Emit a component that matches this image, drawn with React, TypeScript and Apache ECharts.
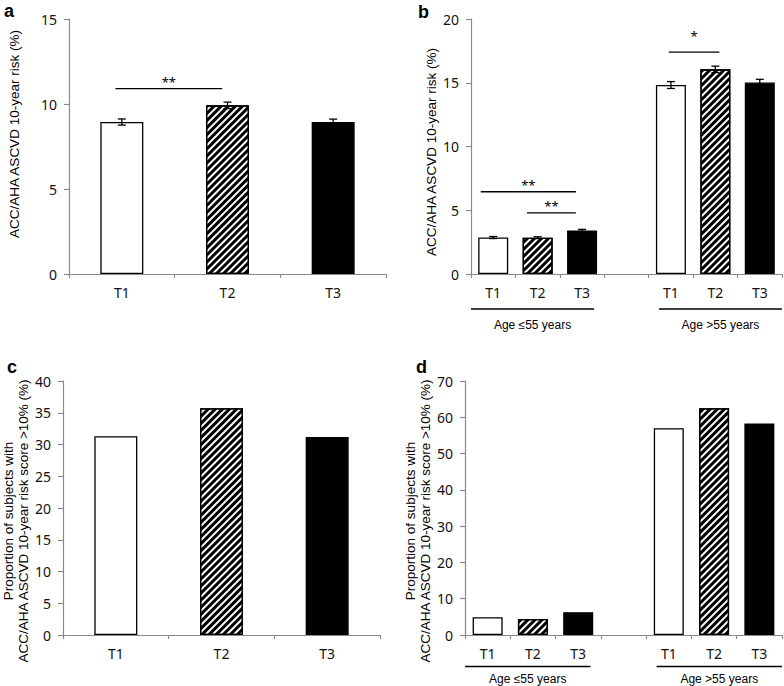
import React, { useEffect, useRef } from 'react';
import * as echarts from 'echarts';

// ---------- data ----------
const catsSingle = ['T1', 'T2', 'T3'];
const catsGrouped = ['T1', 'T2', 'T3', '', 'T1', 'T2', 'T3'];
const ageGroups = ['Age ≤55 years', 'Age >55 years'];

const riskAll = [8.94, 9.92, 8.94];
const riskAllErr = [0.18, 0.19, 0.17];
const riskByAge: (number | null)[] = [2.86, 2.85, 3.42, null, 14.82, 16.05, 15.02];
const riskByAgeErr: (number | null)[] = [0.08, 0.07, 0.08, null, 0.27, 0.25, 0.25];

const propAll = [31.3, 35.7, 31.2];
const propByAge: (number | null)[] = [4.9, 4.4, 6.3, null, 57.0, 62.5, 58.3];

const yMax = [15, 20, 40, 70];
const yStep = [5, 5, 5, 10];

// significance brackets: positions on category scale (fractional index), values on y scale
const sigA = [{ from: -0.06, to: 0.95, y: 10.9, textY: 11.3, text: '**' }];
const sigB = [
  { from: -0.28, to: 1.86, y: 6.45, textY: 6.98, text: '**' },
  { from: 0.76, to: 1.86, y: 4.8, textY: 5.33, text: '**' },
  { from: 3.95, to: 5.09, y: 17.4, textY: 18.67, text: '*' },
];

const yNameRisk = 'ACC/AHA ASCVD 10-year risk (%)';
const yNameProp = 'Proportion of subjects with\nACC/AHA ASCVD 10-year risk score >10% (%)';

// ---------- styles ----------
const TICK_FONT = '"Noto Sans", "Open Sans", sans-serif';
const LABEL_FONT = '"Liberation Sans", Arial, sans-serif';
const AXIS_GRAY = '#8a8a8a';

const hatch = {
  symbol: 'rect',
  symbolSize: 1,
  dashArrayX: [1, 0],
  dashArrayY: [2.2, 2],
  rotation: -Math.PI / 4,
  color: '#000',
  backgroundColor: '#fff',
};

function styleFor(label: string) {
  if (label === 'T1') return { color: '#fff', borderColor: '#000', borderWidth: 1.3 };
  if (label === 'T2') return { color: '#fff', borderColor: '#000', borderWidth: 1.3, decal: hatch };
  return { color: '#000', borderColor: '#000', borderWidth: 1.3 };
}

function barData(cats: string[], values: (number | null)[]) {
  return values.map((v, i) =>
    v == null ? '-' : { value: v, itemStyle: styleFor(cats[i]) }
  );
}

function errorSeries(idx: number, values: (number | null)[], errs: (number | null)[]) {
  const data: number[][] = [];
  values.forEach((v, i) => {
    if (v != null && errs[i] != null) data.push([i, v, errs[i] as number]);
  });
  return {
    type: 'custom',
    xAxisIndex: idx,
    yAxisIndex: idx,
    encode: { x: 0, y: 1 },
    clip: false,
    z: 5,
    silent: true,
    data,
    renderItem: (_p: any, api: any) => {
      const x = api.value(0);
      const v = api.value(1);
      const e = api.value(2);
      const hi = api.coord([x, v + e]);
      const lo = api.coord([x, v - e]);
      const w = 4;
      const st = { stroke: '#000', lineWidth: 1.3 };
      return {
        type: 'group',
        children: [
          { type: 'line', shape: { x1: hi[0], y1: hi[1], x2: lo[0], y2: lo[1] }, style: st },
          { type: 'line', shape: { x1: hi[0] - w, y1: hi[1], x2: hi[0] + w, y2: hi[1] }, style: st },
          { type: 'line', shape: { x1: lo[0] - w, y1: lo[1], x2: lo[0] + w, y2: lo[1] }, style: st },
        ],
      };
    },
  };
}

function sigSeries(idx: number, sig: { from: number; to: number; y: number; textY: number; text: string }[]) {
  return {
    type: 'custom',
    xAxisIndex: idx,
    yAxisIndex: idx,
    encode: { x: 0, y: 1 },
    clip: false,
    z: 6,
    silent: true,
    data: sig.map((s) => [0, s.y, s.from, s.to, s.textY]),
    renderItem: (params: any, api: any) => {
      const y = api.value(1);
      const f = api.value(2);
      const t = api.value(3);
      const ty = api.value(4);
      const p0 = api.coord([0, y]);
      const p1 = api.coord([1, y]);
      const band = p1[0] - p0[0];
      const x1 = p0[0] + band * f;
      const x2 = p0[0] + band * t;
      const tyPx = api.coord([0, ty])[1];
      return {
        type: 'group',
        children: [
          { type: 'line', shape: { x1, y1: p0[1], x2, y2: p0[1] }, style: { stroke: '#000', lineWidth: 1.3 } },
          {
            type: 'text',
            x: (x1 + x2) / 2,
            y: tyPx,
            style: {
              text: sig[params.dataIndex].text,
              textAlign: 'center',
              textVerticalAlign: 'middle',
              font: `13px ${TICK_FONT}`,
              fill: '#000',
            },
          },
        ],
      };
    },
  };
}

const grids = [
  { left: 69, top: 19, width: 317, height: 255 },
  { left: 471, top: 19, width: 311, height: 255 },
  { left: 63, top: 381, width: 317, height: 254 },
  { left: 465, top: 381, width: 317, height: 254 },
];

function xAxis(idx: number, cats: string[]) {
  return {
    type: 'category',
    gridIndex: idx,
    data: cats,
    axisLine: { show: true, lineStyle: { color: AXIS_GRAY, width: 1.2 } },
    axisTick: { show: true, length: 4, lineStyle: { color: AXIS_GRAY, width: 1.2 } },
    axisLabel: { color: '#111', fontFamily: TICK_FONT, fontSize: 14, margin: 11 },
  };
}

function yAxis(idx: number, name: string, nameGap: number, padding: number[]) {
  return {
    type: 'value',
    gridIndex: idx,
    min: 0,
    max: yMax[idx],
    interval: yStep[idx],
    splitLine: { show: false },
    axisLine: { show: true, lineStyle: { color: AXIS_GRAY, width: 1.2 } },
    axisTick: { show: true, length: 5, lineStyle: { color: AXIS_GRAY, width: 1.2 } },
    axisLabel: { color: '#111', fontFamily: TICK_FONT, fontSize: 14, margin: 12 },
    name,
    nameLocation: 'middle',
    nameRotate: 90,
    nameGap,
    nameTextStyle: {
      fontFamily: LABEL_FONT,
      fontSize: 13.5,
      color: '#000',
      lineHeight: 15,
      align: 'center',
      padding,
    },
  };
}

export default function App() {
  const ref = useRef<HTMLDivElement>(null);
  useEffect(() => {
    if (!ref.current) return;
    const chart = echarts.init(ref.current, undefined, { renderer: 'svg' });
    chart.setOption({
      animation: false,
      backgroundColor: '#fff',
      grid: grids,
      xAxis: [
        xAxis(0, catsSingle),
        xAxis(1, catsGrouped),
        xAxis(2, catsSingle),
        xAxis(3, catsGrouped),
      ],
      yAxis: [
        yAxis(0, yNameRisk, 47, [0, 0, 0, 25]),
        yAxis(1, yNameRisk, 32, [0, 11, 0, 0]),
        yAxis(2, yNameProp, 32, [0, 26, 0, 0]),
        yAxis(3, yNameProp, 32, [0, 26, 0, 0]),
      ],
      series: [
        { type: 'bar', xAxisIndex: 0, yAxisIndex: 0, barWidth: 43, data: barData(catsSingle, riskAll) },
        { type: 'bar', xAxisIndex: 1, yAxisIndex: 1, barWidth: 30, data: barData(catsGrouped, riskByAge) },
        { type: 'bar', xAxisIndex: 2, yAxisIndex: 2, barWidth: 43, data: barData(catsSingle, propAll) },
        { type: 'bar', xAxisIndex: 3, yAxisIndex: 3, barWidth: 30, data: barData(catsGrouped, propByAge) },
        errorSeries(0, riskAll, riskAllErr),
        errorSeries(1, riskByAge, riskByAgeErr),
        sigSeries(0, sigA),
        sigSeries(1, sigB),
      ],
    });

    // group brackets under the grouped panels, placed from the axes' own scales
    const graphics: any[] = [];
    const letters = [
      { t: 'a', x: 4, y: 11 },
      { t: 'b', x: 418, y: 11.5 },
      { t: 'c', x: 7, y: 366.5 },
      { t: 'd', x: 416, y: 367 },
    ];
    letters.forEach((l) =>
      graphics.push({
        type: 'text',
        x: l.x,
        y: l.y,
        style: { text: l.t, font: `bold 18px ${LABEL_FONT}`, fill: '#000', textVerticalAlign: 'middle' },
      })
    );
    [
      { axis: 1, lineOff: 35, textOff: 51 },
      { axis: 3, lineOff: 31.5, textOff: 44 },
    ].forEach(({ axis, lineOff, textOff }) => {
      const cx = (i: number) => chart.convertToPixel({ xAxisIndex: axis }, i) as number;
      const base = chart.convertToPixel({ yAxisIndex: axis }, 0) as number;
      const band = cx(1) - cx(0);
      const spans = [
        [cx(0) - band / 2, cx(2) + band / 2 - band * 0.23],
        [cx(4) - band / 2 + band * 0.23, cx(6) + band / 2],
      ];
      spans.forEach(([a, b], gi) => {
        graphics.push({
          type: 'line',
          shape: { x1: a, y1: base + lineOff, x2: b, y2: base + lineOff },
          style: { stroke: '#000', lineWidth: 1.3 },
        });
        graphics.push({
          type: 'text',
          x: (a + b) / 2,
          y: base + textOff,
          style: {
            text: ageGroups[gi],
            font: `12px ${LABEL_FONT}`,
            fill: '#000',
            textAlign: 'center',
            textVerticalAlign: 'middle',
          },
        });
      });
    });
    chart.setOption({ graphic: graphics });

    return () => chart.dispose();
  }, []);
  return (
    <div
      ref={ref}
      style={{ position: 'fixed', left: 0, top: 0, width: 784, height: 686, background: '#fff' }}
    />
  );
}
